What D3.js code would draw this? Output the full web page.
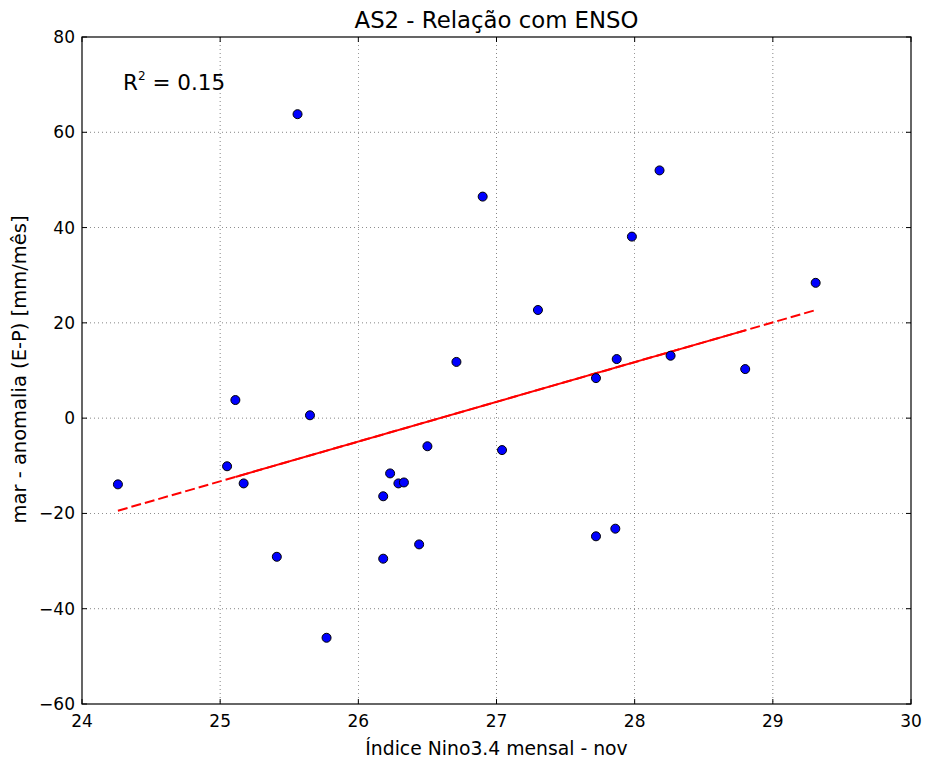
<!DOCTYPE html>
<html><head><meta charset="utf-8">
<script src="https://cdn.jsdelivr.net/npm/d3@7"></script>
<style>body{margin:0;background:#fff}svg{font-family:"DejaVu Sans",sans-serif}</style>
</head><body><svg id="c" width="925" height="764"></svg>
<script>
const ninoX = [24.26,25.56,25.05,25.11,25.17,25.41,25.65,25.77,26.18,26.23,26.29,26.33,26.18,26.44,26.50,26.71,26.90,27.04,27.30,27.72,27.72,27.86,27.87,27.98,28.18,28.26,28.80,29.31];
const anomY = [-13.9,63.8,-10.1,3.8,-13.7,-29.1,0.6,-46.1,-16.4,-11.6,-13.7,-13.5,-29.5,-26.5,-5.9,11.8,46.5,-6.7,22.7,8.4,-24.8,-23.2,12.4,38.1,52.0,13.1,10.3,28.4];
const xTicks = [24,25,26,27,28,29,30];
const yTicks = [-60,-40,-20,0,20,40,60,80];
const title = "AS2 - Relação com ENSO";
const xLabel = "Índice Nino3.4 mensal - nov";
const yLabel = "mar - anomalia (E-P) [mm/mês]";
const r2Text = "0.15";

const svg = d3.select("#c");
const L=82, R=911, T=37, B=704;
const x = d3.scaleLinear().domain([24,30]).range([L,R]);
const y = d3.scaleLinear().domain([-60,80]).range([B,T]);
const fmt = d => (d<0?"\u2212":"")+Math.abs(d);

// grid
const g = svg.append("g");
g.selectAll(".gx").data(xTicks.slice(1,-1)).join("line")
 .attr("x1",d=>x(d)).attr("x2",d=>x(d)).attr("y1",T).attr("y2",B)
 .attr("stroke","#000").attr("stroke-width",0.6).attr("stroke-dasharray","1,3").attr("opacity",0.8);
g.selectAll(".gy").data(yTicks.slice(1,-1)).join("line")
 .attr("y1",d=>y(d)).attr("y2",d=>y(d)).attr("x1",L).attr("x2",R)
 .attr("stroke","#000").attr("stroke-width",0.6).attr("stroke-dasharray","1,3").attr("opacity",0.8);

// regression
const n=ninoX.length, mx=d3.mean(ninoX), my=d3.mean(anomY);
let sxy=0,sxx=0; for(let i=0;i<n;i++){sxy+=(ninoX[i]-mx)*(anomY[i]-my);sxx+=(ninoX[i]-mx)**2;}
const slope=sxy/sxx, icpt=my-slope*mx;
const sorted=[...ninoX].sort((a,b)=>a-b);
const xmin=sorted[0], xmax=sorted[n-1];
svg.append("line").attr("x1",x(xmin)).attr("y1",y(slope*xmin+icpt)).attr("x2",x(xmax)).attr("y2",y(slope*xmax+icpt))
 .attr("stroke","#ff0000").attr("stroke-width",2).attr("stroke-dasharray","10,4");
const a=sorted[2], b=sorted[n-2];
svg.append("line").attr("x1",x(a)).attr("y1",y(slope*a+icpt)).attr("x2",x(b)).attr("y2",y(slope*b+icpt))
 .attr("stroke","#ff0000").attr("stroke-width",2);

// points
svg.selectAll("circle").data(ninoX.map((v,i)=>[v,anomY[i]])).join("circle")
 .attr("cx",d=>x(d[0])).attr("cy",d=>y(d[1])).attr("r",4.5)
 .attr("fill","#0000ff").attr("stroke","#000").attr("stroke-width",1);

// frame
svg.append("rect").attr("x",L).attr("y",T).attr("width",R-L).attr("height",B-T)
 .attr("fill","none").attr("stroke","#000").attr("stroke-width",1.2);

// ticks inward on all sides
const tk=svg.append("g").attr("stroke","#000").attr("stroke-width",1);
xTicks.forEach(d=>{tk.append("line").attr("x1",x(d)).attr("x2",x(d)).attr("y1",B).attr("y2",B-5);
 tk.append("line").attr("x1",x(d)).attr("x2",x(d)).attr("y1",T).attr("y2",T+5);});
yTicks.forEach(d=>{tk.append("line").attr("y1",y(d)).attr("y2",y(d)).attr("x1",L).attr("x2",L+5);
 tk.append("line").attr("y1",y(d)).attr("y2",y(d)).attr("x1",R).attr("x2",R-5);});

// tick labels
svg.selectAll(".xl").data(xTicks).join("text").attr("x",d=>x(d)).attr("y",B+23)
 .attr("text-anchor","middle").attr("font-size",17).text(d=>fmt(d));
svg.selectAll(".yl").data(yTicks).join("text").attr("x",L-7).attr("y",d=>y(d)+6)
 .attr("text-anchor","end").attr("font-size",17).text(d=>fmt(d));

// labels
svg.append("text").attr("x",(L+R)/2).attr("y",28).attr("text-anchor","middle").attr("font-size",22.8).text(title);
svg.append("text").attr("x",(L+R)/2).attr("y",755).attr("text-anchor","middle").attr("font-size",18.8).text(xLabel);
svg.append("text").attr("transform",`translate(26,${(T+B)/2-1}) rotate(-90)`).attr("text-anchor","middle").attr("font-size",19.5).text(yLabel);

const rt=svg.append("text").attr("x",123).attr("y",90).attr("font-size",21.5);
rt.append("tspan").text("R");
rt.append("tspan").attr("font-size",12).attr("dy",-10).text("2");
rt.append("tspan").attr("dy",10).text(" = "+r2Text);
</script></body></html>
